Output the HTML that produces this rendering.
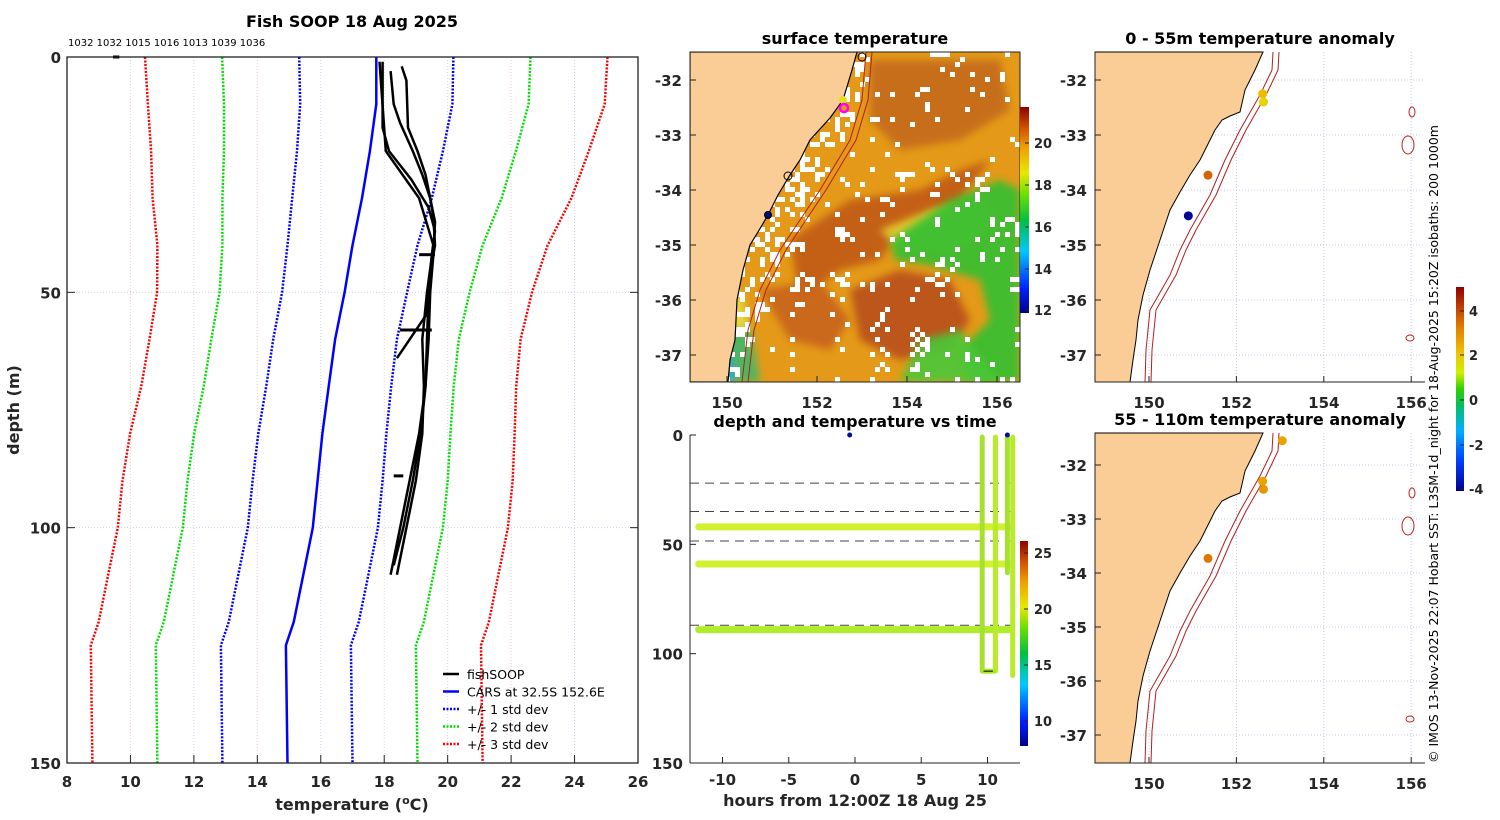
<!DOCTYPE html>
<html><head><meta charset="utf-8"><style>
html,body{margin:0;padding:0;background:#fff;}
svg{display:block;font-family:"DejaVu Sans","Liberation Sans",sans-serif;}
.tk{font-size:15px;font-weight:bold;fill:#262626;}
.tt{font-size:16px;font-weight:bold;fill:#000;}
</style></head><body>
<svg id="fig" width="1500" height="820" viewBox="0 0 1500 820" xmlns="http://www.w3.org/2000/svg">
<defs>
<linearGradient id="jet" x1="0" y1="1" x2="0" y2="0">
<stop offset="0" stop-color="#00008f"/><stop offset="0.12" stop-color="#0020ff"/><stop offset="0.3" stop-color="#00c8ff"/><stop offset="0.45" stop-color="#00c040"/><stop offset="0.58" stop-color="#70e000"/><stop offset="0.68" stop-color="#e8e800"/><stop offset="0.8" stop-color="#f0a000"/><stop offset="0.9" stop-color="#d05000"/><stop offset="1" stop-color="#900000"/>
</linearGradient>
<linearGradient id="jet2" x1="0" y1="1" x2="0" y2="0">
<stop offset="0" stop-color="#00008f"/><stop offset="0.15" stop-color="#0040ff"/><stop offset="0.3" stop-color="#00b0ff"/><stop offset="0.42" stop-color="#00c060"/><stop offset="0.5" stop-color="#30d000"/><stop offset="0.58" stop-color="#d0f000"/><stop offset="0.68" stop-color="#f0c000"/><stop offset="0.8" stop-color="#e08000"/><stop offset="0.9" stop-color="#c04000"/><stop offset="1" stop-color="#900000"/>
</linearGradient>
<clipPath id="clipSST"><rect x="690" y="52" width="330" height="330"/></clipPath>
<filter id="blur3"><feGaussianBlur stdDeviation="4"/></filter>
</defs>
<g id="left"></g>
<g id="sst"></g>
<g id="timep"></g>
<g id="anom"></g>
<text transform="translate(1438,763) rotate(-90)" font-size="12.5" fill="#000">© IMOS 13-Nov-2025 22:07 Hobart SST: L3SM-1d_night for 18-Aug-2025 15:20Z isobaths: 200  1000m</text>
</svg>
<script>
// ---------- data: left profile panel ----------
const depths = [0,10,20,30,40,50,60,70,80,90,100,110,120,125,150];
const carsMean = [17.75,17.75,17.55,17.3,17.0,16.75,16.45,16.25,16.05,15.9,15.75,15.45,15.15,14.9,14.95];
const carsStd = [2.43,2.4,2.3,2.2,2.05,1.97,1.95,1.97,2.02,2.05,2.05,2.05,2.05,2.05,2.05];
const p1Depth = [1,15,20,26,32,37,42,50,60,70,80,90,100,108];
const p1Temp = [17.95,17.95,18.15,18.85,19.4,19.6,19.5,19.4,19.35,19.3,19.15,18.9,18.6,18.3];
const p2Depth = [3,10,14,20,25,30,34,40,48,55,62,64];
const p2Temp = [18.2,18.3,18.5,18.9,19.2,19.45,19.55,19.6,19.4,19.3,18.6,18.4];
const p3Depth = [2,5,15,20,25,30,35,42,50,60,70,80,90,100,110];
const p3Temp = [18.55,18.7,18.75,19.05,19.3,19.45,19.6,19.55,19.45,19.4,19.3,19.1,18.8,18.5,18.2];
const p4Depth = [1,20,30,40,50,60,70,80,90,100,110];
const p4Temp = [17.85,18.05,19.1,19.55,19.35,19.2,19.25,19.2,19.0,18.7,18.4];
const xTicks = [8,10,12,14,16,18,20,22,24,26];
const yTicks = [0,50,100,150];
// ---------- data: time panel ----------
const bandDepths = [42,59,89];
const dashDepths = [22,35,48.5,87];
const castHours = [9.6,10.6,11.5,11.9];
const castMaxDepth = [108,108,63,110];
const hTicks = [-10,-5,0,5,10];
// ---------- data: anomaly points ----------
const anomTopLon = [152.6,152.62,151.35,150.9];
const anomTopLat = [-32.25,-32.4,-33.73,-34.47];
const anomTopVal = [2.2,1.7,3.6,-4];
const anomBotLon = [153.05,152.6,152.62,151.35];
const anomBotLat = [-31.55,-32.3,-32.45,-33.73];
const anomBotVal = [2.6,2.6,2.8,3.3];
const lonTicks = [150,152,154,156];
const latTicks = [-32,-33,-34,-35,-36,-37];

const NS="http://www.w3.org/2000/svg";
function mk(parent,tag,attrs,txt){const e=document.createElementNS(NS,tag);for(const k in attrs)e.setAttribute(k,attrs[k]);if(txt!==undefined)e.textContent=txt;parent.appendChild(e);return e;}

// ---------- left panel ----------
const L=document.getElementById('left');
const lx=t=>67+(t-8)*(638-67)/18, ly=d=>57+d*(763-57)/150;
let t;
t=mk(L,'text',{x:352,y:27,'text-anchor':'middle',class:'tt'},'Fish SOOP 18 Aug 2025');

t=mk(L,'text',{x:68,y:46,'font-size':10,fill:'#000'},'1032 1032 1015 1016 1013 1039 1036');

xTicks.forEach((v,i)=>{if(i>0&&i<xTicks.length-1){const g=mk(L,'line',{x1:lx(v),x2:lx(v),y1:57,y2:763,stroke:i%2?'#f0d0c0':'#c8d4f0','stroke-width':1,'stroke-dasharray':'1 2'});}
 mk(L,'line',{x1:lx(v),x2:lx(v),y1:763,y2:755,stroke:'#222'});
 const tx=mk(L,'text',{x:lx(v),y:787,'text-anchor':'middle',class:'tk'},v);});
yTicks.forEach((v,i)=>{if(i>0&&i<3){const g=mk(L,'line',{x1:67,x2:638,y1:ly(v),y2:ly(v),stroke:'#c8d4f0','stroke-dasharray':'1 2'});}
 mk(L,'line',{x1:67,x2:75,y1:ly(v),y2:ly(v),stroke:'#222'});mk(L,'line',{x1:630,x2:638,y1:ly(v),y2:ly(v),stroke:'#222'});
 const tx=mk(L,'text',{x:61,y:ly(v)+6,'text-anchor':'end',class:'tk'},v);});
function line(g,ds,ts,col,w,dash,name){const pts=ds.map((d,i)=>lx(ts[i]).toFixed(1)+','+ly(d).toFixed(1)).join(' ');const p=mk(g,'polyline',{points:pts,fill:'none',stroke:col,'stroke-width':w});if(dash)p.setAttribute('stroke-dasharray',dash);return p;}
[[3,'#ff0000'],[2,'#00e000'],[1,'#0000ff']].forEach(([k,c])=>{
 line(L,depths,carsMean.map((m,i)=>m-k*carsStd[i]),c,2.5,'2 1.5','minus-'+k+'-std-line');
 line(L,depths,carsMean.map((m,i)=>m+k*carsStd[i]),c,2.5,'2 1.5','plus-'+k+'-std-line');});
line(L,depths,carsMean,'#0000ff',2.5,null,'cars-mean-line');
[[p1Depth,p1Temp],[p2Depth,p2Temp],[p3Depth,p3Temp],[p4Depth,p4Temp]].forEach(([d,tt],i)=>line(L,d,tt,'#000',2.5,null,'fishsoop-profile-'+(i+1)));
mk(L,'line',{x1:lx(19.1),x2:lx(19.6),y1:ly(42),y2:ly(42),stroke:'#000','stroke-width':3});
mk(L,'line',{x1:lx(18.5),x2:lx(19.5),y1:ly(58),y2:ly(58),stroke:'#000','stroke-width':3});
mk(L,'line',{x1:lx(18.3),x2:lx(18.6),y1:ly(89),y2:ly(89),stroke:'#000','stroke-width':3});
mk(L,'line',{x1:lx(9.45),x2:lx(9.65),y1:57,y2:57,stroke:'#000','stroke-width':3});
t=mk(L,'rect',{x:67,y:57,width:571,height:706,fill:'none',stroke:'#222','stroke-width':1.3});
t=mk(L,'text',{x:352,y:810,'text-anchor':'middle','font-size':16,'font-weight':'bold',fill:'#262626'});t.innerHTML='temperature (<tspan dy="-6" font-size="11">o</tspan><tspan dy="6">C)</tspan>';

t=mk(L,'text',{transform:'translate(19,410) rotate(-90)','text-anchor':'middle','font-size':16,'font-weight':'bold',fill:'#262626'},'depth (m)');

const leg=mk(L,'g',{});
[['fishSOOP','#000',null],['CARS at 32.5S 152.6E','#0000ff',null],['+/- 1 std dev','#0000ff','2 1.5'],['+/- 2 std dev','#00e000','2 1.5'],['+/- 3 std dev','#ff0000','2 1.5']].forEach(([lab,c,d],i)=>{
 const y=674+i*17.5;const e=mk(leg,'g',{});
 const l=mk(e,'line',{x1:443,x2:459,y1:y,y2:y,stroke:c,'stroke-width':2.5});if(d)l.setAttribute('stroke-dasharray',d);
 mk(e,'text',{x:467,y:y+5,'font-size':12.5,fill:'#000'},lab);});

// ---------- map axes helper ----------
function axesMap(g,x0,y0,w,h,lonX,latY,title,titleY,box,name){
 const gg=mk(g,'g',{});
 const tt=mk(gg,'text',{x:x0+w/2,y:titleY,'text-anchor':'middle',class:'tt'},title);
 lonTicks.forEach(v=>{const x=lonX(v);mk(gg,'line',{x1:x,x2:x,y1:y0+h,y2:y0+h-6,stroke:'#222'});
  const e=mk(gg,'text',{x:x,y:y0+h+26,'text-anchor':'middle',class:'tk'},v);});
 latTicks.forEach(v=>{const y=latY(v);mk(gg,'line',{x1:x0,x2:x0+6,y1:y,y2:y,stroke:'#222'});
  const e=mk(gg,'text',{x:x0-8,y:y+6,'text-anchor':'end',class:'tk'},v);});
 mk(gg,'line',{x1:x0,x2:x0+w,y1:y0+h,y2:y0+h,stroke:'#222'});
 mk(gg,'line',{x1:x0,x2:x0,y1:y0,y2:y0+h,stroke:'#222'});
 if(box){mk(gg,'rect',{x:x0,y:y0,width:w,height:h,fill:'none',stroke:'#222'});}
 return gg;}

// ---------- SST map ----------
const S=document.getElementById('sst');
const sx=v=>727+(v-150)*45, sy=v=>80+(-32-v)*55;
const sg=mk(S,'g',{'clip-path':'url(#clipSST)'});
mk(sg,'rect',{x:690,y:52,width:330,height:330,fill:'#e49a18'});
const blobs=[
['#c46a1a','M870,60 L1000,60 L1010,110 L960,140 L900,150 L870,120Z'],
['#c05a14','M790,240 L850,200 L920,190 L960,170 L990,160 L960,200 L900,230 L880,260 L840,270 L800,300Z'],
['#b8501a','M850,290 L900,270 L950,280 L970,320 L950,350 L900,360 L860,340Z'],
['#c8641a','M760,290 L820,280 L850,320 L830,350 L790,340Z'],
['#e8d030','M880,230 L930,210 L980,200 L1000,220 L960,250 L900,250Z'],
['#30c030','M890,240 L950,200 L1000,180 L1020,190 L1020,382 L970,382 L960,350 L990,320 L980,280 L930,265 L895,260Z'],
['#48c838','M920,340 L960,330 L1000,382 L900,382Z'],
['#40b868','M700,330 L750,325 L760,382 L690,382 L690,340Z'],
['#30a8e0','M690,350 L730,345 L735,382 L690,382Z'],
['#e8e040','M700,300 L740,290 L750,330 L700,330Z']];
blobs.forEach(([c,d])=>mk(sg,'path',{d:d,fill:c,filter:'url(#blur3)',opacity:0.9}));
// cloud-mask speckle (white gaps)
function hsh(a,b){const s=Math.sin(a*12.9898+b*78.233)*43758.5453;return s-Math.floor(s);}
let sp='';
for(let i=0;i<66;i++)for(let j=0;j<66;j++){const x=690+i*5,y=52+j*5;
 const coarse=hsh(Math.floor(i/4)+7,Math.floor(j/4)+3);
 const near=(x<700+(382-y)*0.45+30 && x>690+(382-y)*0.35);
 let dens=near?0.4:0.04+(coarse<0.15?0.3:0);
 if(hsh(i,j)<dens) sp+='M'+x+','+y+'h5v5h-5z';}
mk(sg,'path',{d:sp,fill:'#fff'});
const coastS='M690,52 L857,52 L852,70 L843,100 L830,118 L810,140 L800,160 L790,175 L778,195 L768,215 L758,232 L750,245 L743,270 L737,300 L736,320 L735,340 L730,360 L728,382 L690,382Z';
t=mk(sg,'path',{d:coastS,fill:'#facc96',stroke:'#000','stroke-width':1.2});
mk(sg,'path',{d:'M866,52 L862,100 L850,140 L820,190 L800,220 L780,250 L760,290 L748,330 L742,382',fill:'none',stroke:'#b02020','stroke-width':1});
mk(sg,'path',{d:'M872,52 L868,100 L856,140 L826,190 L806,220 L786,250 L766,290 L754,330 L748,382',fill:'none',stroke:'#b02020','stroke-width':1});
mk(sg,'circle',{cx:843,cy:100,r:4,fill:'#e0e020'});mk(sg,'circle',{cx:844,cy:108,r:4,fill:'none',stroke:'#ff00ff','stroke-width':2.5});
mk(sg,'circle',{cx:788,cy:176,r:4,fill:'none',stroke:'#000'});mk(sg,'circle',{cx:768,cy:215,r:3.5,fill:'#001080',stroke:'#000'});
mk(sg,'circle',{cx:862,cy:57,r:4,fill:'none',stroke:'#000'});
axesMap(S,690,52,330,330,sx,sy,'surface temperature',44,true,'sst-map');
t=mk(S,'rect',{x:1020,y:107,width:9,height:206,fill:'url(#jet)'});
[[20,143],[18,185],[16,227],[14,269],[12,310]].forEach(([v,y])=>{mk(S,'line',{x1:1029,x2:1025,y1:y,y2:y,stroke:'#222'});const e=mk(S,'text',{x:1034,y:y+5,'font-size':13,'font-weight':'bold',fill:'#262626'},v);});

// ---------- time panel ----------
const T=document.getElementById('timep');
const tx=h=>855+h*13.25, ty=d=>435+d*(763-435)/150;
t=mk(T,'text',{x:855,y:427,'text-anchor':'middle',class:'tt'},'depth and temperature vs time');
dashDepths.forEach(d=>{const e=mk(T,'line',{x1:690,x2:1020,y1:ty(d),y2:ty(d),stroke:'#444','stroke-dasharray':'9 6'});});
bandDepths.forEach((d,i)=>{const e=mk(T,'line',{x1:tx(-11.8),x2:tx(11.8),y1:ty(d),y2:ty(d),stroke:i==2?'#b0ec28':'#d0f030','stroke-width':7,'stroke-linecap':'round'});});
castHours.forEach((h,i)=>{const e=mk(T,'line',{x1:tx(h),x2:tx(h),y1:ty(1),y2:ty(castMaxDepth[i]),stroke:i%2?'#b8ec28':'#a8e030','stroke-width':5,'stroke-linecap':'round'});});
mk(T,'line',{x1:tx(9.6),x2:tx(10.6),y1:ty(108),y2:ty(108),stroke:'#a8e828','stroke-width':5});
mk(T,'line',{x1:tx(9.7),x2:tx(10.4),y1:ty(108),y2:ty(108),stroke:'#000','stroke-width':1});
mk(T,'circle',{cx:tx(-0.4),cy:ty(0),r:2.5,fill:'#0010a0'});mk(T,'circle',{cx:tx(11.5),cy:ty(0),r:2.5,fill:'#0010a0'});
hTicks.forEach(h=>{mk(T,'line',{x1:tx(h),x2:tx(h),y1:763,y2:757,stroke:'#222'});const e=mk(T,'text',{x:tx(h),y:785,'text-anchor':'middle',class:'tk'},h);});
[0,50,100,150].forEach(d=>{mk(T,'line',{x1:690,x2:696,y1:ty(d),y2:ty(d),stroke:'#222'});const e=mk(T,'text',{x:683,y:ty(d)+6,'text-anchor':'end',class:'tk'},d);});
mk(T,'line',{x1:690,x2:1020,y1:763,y2:763,stroke:'#222'});mk(T,'line',{x1:690,x2:690,y1:435,y2:763,stroke:'#222'});
t=mk(T,'text',{x:855,y:806,'text-anchor':'middle','font-size':16,'font-weight':'bold',fill:'#262626'},'hours from 12:00Z 18 Aug 25');
t=mk(T,'rect',{x:1020,y:541,width:8,height:205,fill:'url(#jet)'});
[[25,553],[20,609],[15,665],[10,721]].forEach(([v,y])=>{mk(T,'line',{x1:1028,x2:1024,y1:y,y2:y,stroke:'#222'});const e=mk(T,'text',{x:1034,y:y+5,'font-size':13,'font-weight':'bold',fill:'#262626'},v);});

// ---------- anomaly maps ----------
const A=document.getElementById('anom');
function anomColor(v){const f=(v+4.05)/9.05;const st=[[0,[0,0,143]],[0.15,[0,64,255]],[0.3,[0,176,255]],[0.42,[0,192,96]],[0.5,[48,208,0]],[0.58,[208,240,0]],[0.68,[240,192,0]],[0.8,[224,128,0]],[0.9,[192,64,0]],[1,[144,0,0]]];
 for(let i=1;i<st.length;i++){if(f<=st[i][0]){const a=st[i-1],b=st[i],k=(f-a[0])/(b[0]-a[0]);return 'rgb('+a[1].map((c,j)=>Math.round(c+(b[1][j]-c)*k)).join(',')+')';}}return 'rgb(144,0,0)';}
function anomMap(y0,latTop,latScale,lons,lats,vals,title,name){
 const mx=v=>1149+(v-150)*43.7, my=v=>latTop+(-32-v)*latScale;
 const dy=y0-52;
 const g=mk(A,'g',{});
 lonTicks.forEach(v=>mk(g,'line',{x1:mx(v),x2:mx(v),y1:y0,y2:y0+330,stroke:'#c8c8e8','stroke-dasharray':'1 2'}));
 latTicks.forEach(v=>mk(g,'line',{x1:1095,x2:1425,y1:my(v),y2:my(v),stroke:'#c8c8e8','stroke-dasharray':'1 2'}));
 const pts=[[1263,52],[1255,70],[1245,90],[1240,112],[1230,116],[1222,120],[1215,130],[1205,150],[1200,160],[1190,175],[1180,192],[1170,210],[1165,225],[1160,240],[1155,255],[1150,270],[1143,295],[1140,310],[1138,320],[1136,340],[1133,360],[1130,382]];
 t=mk(g,'path',{d:'M1095,'+y0+' '+pts.map(p=>'L'+p[0]+','+(p[1]+dy)).join(' ')+' L1095,'+(y0+330)+'Z',fill:'#facc96',stroke:'#000','stroke-width':1});
 const iso=[[1273,52],[1272,70],[1260,95],[1240,130],[1225,160],[1210,195],[1190,230],[1180,250],[1170,275],[1150,310],[1146,350],[1145,382]];
 [0,6].forEach(o=>mk(g,'path',{d:'M'+iso.map(p=>(p[0]+o)+','+(p[1]+dy)).join(' L'),fill:'none',stroke:'#b02020','stroke-width':1}));
 [[1412,112,3,5],[1408,145,6,9],[1410,338,4,3]].forEach(([x,y,rx,ry])=>mk(g,'ellipse',{cx:x,cy:y+dy,rx:rx,ry:ry,fill:'none',stroke:'#c02020'}));
 vals.forEach((v,i)=>{const c=mk(g,'circle',{cx:mx(lons[i]),cy:my(lats[i]),r:4.5,fill:anomColor(v)});});
 axesMap(A,1095,y0,330,330,mx,my,title,y0-8,false,name);
}
anomMap(52,80,55,anomTopLon,anomTopLat,anomTopVal,'0 - 55m temperature anomaly','anomaly-0-55m-map');
anomMap(433,465,54,anomBotLon,anomBotLat,anomBotVal,'55 - 110m temperature anomaly','anomaly-55-110m-map');
t=mk(A,'rect',{x:1456,y:287,width:8,height:204,fill:'url(#jet2)'});
[[4,311],[2,355],[0,400],[-2,445],[-4,489]].forEach(([v,y])=>{mk(A,'line',{x1:1464,x2:1460,y1:y,y2:y,stroke:'#222'});const e=mk(A,'text',{x:1469,y:y+5,'font-size':13,'font-weight':'bold',fill:'#262626'},v);});
</script>
</body></html>
